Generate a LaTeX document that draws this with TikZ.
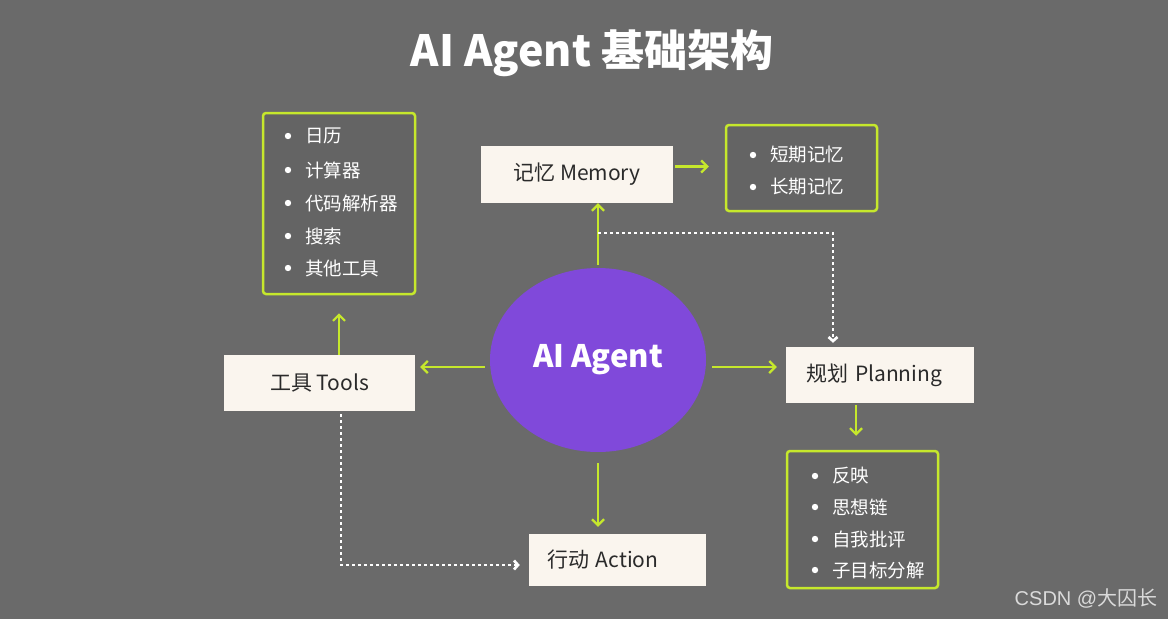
\documentclass[tikz,border=0pt]{standalone}
\usepackage{fontspec}
\setmainfont{Noto Sans CJK SC}
\newfontfamily\wmfont{Liberation Sans}
\usetikzlibrary{shapes.geometric,arrows.meta,calc}
\definecolor{bg}{HTML}{6A6A6A}
\definecolor{lbg}{HTML}{646464}
\definecolor{lime}{HTML}{C6E82C}
\definecolor{violet}{HTML}{8049DA}
\definecolor{cream}{HTML}{FAF5EE}
\definecolor{ink}{HTML}{2A2A2A}
\definecolor{wm}{HTML}{DADADA}
\newcommand\litem[3]{\fill[white] ({#1-17},#2) circle (3.2);
  \node[itemtext] at (#1,#2) {#3};}
\begin{document}
\begin{tikzpicture}[x=1pt,y=-1pt,
  cbox/.style={draw=none,fill=cream,text=ink,inner sep=0pt,font=\fontsize{21}{24}\selectfont},
  lbox/.style={draw=lime,line width=2.5pt,rounded corners=3pt,fill=lbg,inner sep=0pt},
  itemtext/.style={anchor=west,text=white,inner sep=0pt,font=\fontsize{18.5}{22}\selectfont},
  garrow/.style={draw=lime,line width=2.2pt,-{Straight Barb[length=6pt,width=12pt]}},
  dotarrow/.style={draw=white,line width=2.7pt,dash pattern=on 2.7pt off 3.3pt,-{Straight Barb[length=4pt,width=9pt]}}
]
\fill[bg] (0,0) rectangle (1168,619);
\useasboundingbox (0,0) rectangle (1168,619);

\node[text=white,font=\fontsize{43}{48}\selectfont\bfseries] (title) at (592,53) {AI Agent 基础架构};

\node[ellipse,fill=violet,minimum width=216pt,minimum height=184pt,inner sep=0pt,
  text=white,font=\fontsize{31}{36}\selectfont\bfseries] (agent) at (598,360) {AI Agent};

\node[cbox,minimum width=192pt,minimum height=57pt] (mem) at (577,174.5) {记忆 Memory};
\node[lbox,minimum width=151pt,minimum height=86pt] (mlist) at (801.5,168) {};
\litem{770}{155}{短期记忆}
\litem{770}{187}{长期记忆}

\node[lbox,minimum width=152pt,minimum height=181pt] (tlist) at (339,203.5) {};
\litem{305}{136}{日历}
\litem{305}{170}{计算器}
\litem{305}{203}{代码解析器}
\litem{305}{236}{搜索}
\litem{305}{268}{其他工具}

\node[cbox,minimum width=191pt,minimum height=56pt] (tools) at (319.5,383) {工具 Tools};

\node[cbox,minimum height=56pt,inner xsep=20pt,text width=148pt,align=left] (plan) at (880,375) {规划 Planning};
\node[lbox,minimum width=151pt,minimum height=137pt] (plist) at (862.5,519.5) {};
\litem{832}{476}{反映}
\litem{832}{507}{思想链}
\litem{832}{539}{自我批评}
\litem{832}{570}{子目标分解}

\node[cbox,minimum height=52pt,inner xsep=18pt,text width=141pt,align=left] (action) at (617.5,560) {行动 Action};

% green arrows
\draw[garrow,shorten <=3pt] (agent.north) -- (agent.north |- mem.south);
\draw[garrow,shorten <=2pt,shorten >=16pt] ([yshift=8pt]mem.east) -- ([yshift=8pt]mem.east -| mlist.west);
\draw[garrow,shorten <=5pt,shorten >=5pt] ([yshift=-7pt]agent.west) -- ([yshift=-7pt]agent.west -| tools.east);
\draw[garrow,shorten >=18pt] (tlist.south |- tools.north) -- (tlist.south);
\draw[garrow,shorten <=6pt,shorten >=9pt] ([yshift=-7pt]agent.east) -- ([yshift=-7pt]agent.east -| plan.west);
\draw[garrow,shorten <=2pt,shorten >=14pt] ([xshift=-24pt]plan.south) -- ([xshift=-24pt]plan.south |- plist.north);
\draw[garrow,shorten <=11pt,shorten >=7pt] (agent.south) -- (agent.south |- action.north);

% dotted arrows
\coordinate (j1) at (598,233);
\draw[dotarrow,shorten >=4pt] (j1) -| ([xshift=-47pt]plan.north);
\draw[dotarrow,shorten <=3pt,shorten >=9pt] ([xshift=21.5pt]tools.south) |- ([yshift=-5pt]action.west);

\node[text=wm,font=\fontsize{20}{24}\selectfont,inner sep=0pt] (wmark) at (1086,598) {{\wmfont CSDN @}大囚长};
\end{tikzpicture}
\end{document}
